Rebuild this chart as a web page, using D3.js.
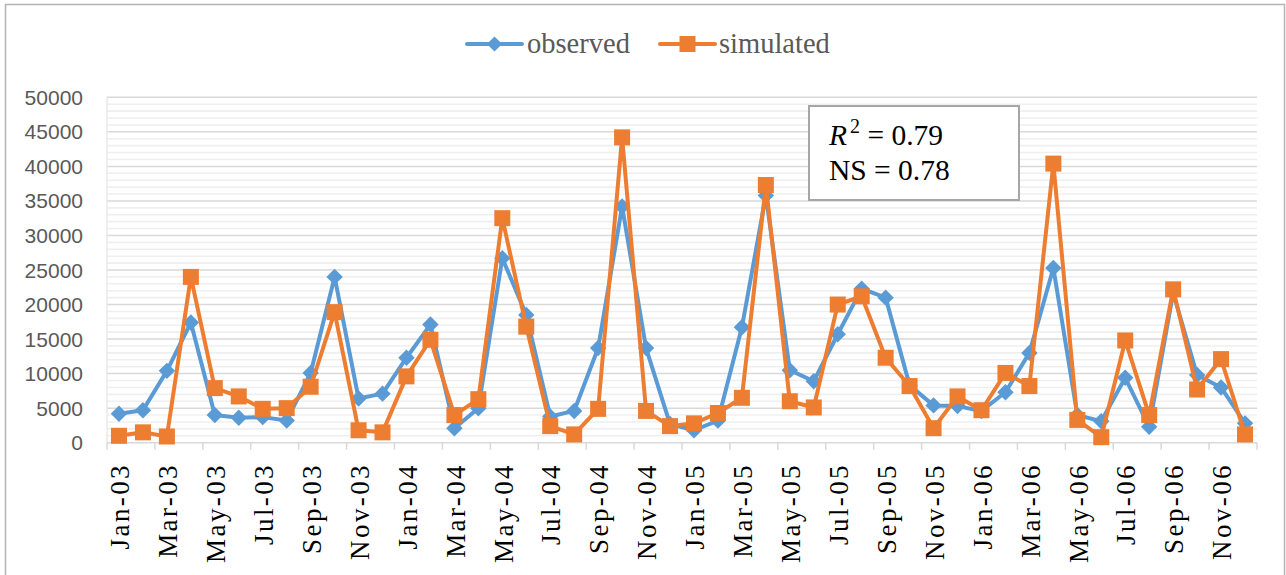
<!DOCTYPE html>
<html>
<head>
<meta charset="utf-8">
<script src="https://cdn.jsdelivr.net/npm/d3@7"></script>
<style>
  html, body { margin: 0; padding: 0; background: #fff; }
  svg { display: block; }
</style>
</head>
<body>
<svg id="chart" width="1286" height="575"></svg>
<script>
// Monthly discharge, observed vs simulated, Jan 2003 – Dec 2006
const months = [
  "Jan-03","Feb-03","Mar-03","Apr-03","May-03","Jun-03","Jul-03","Aug-03","Sep-03","Oct-03","Nov-03","Dec-03",
  "Jan-04","Feb-04","Mar-04","Apr-04","May-04","Jun-04","Jul-04","Aug-04","Sep-04","Oct-04","Nov-04","Dec-04",
  "Jan-05","Feb-05","Mar-05","Apr-05","May-05","Jun-05","Jul-05","Aug-05","Sep-05","Oct-05","Nov-05","Dec-05",
  "Jan-06","Feb-06","Mar-06","Apr-06","May-06","Jun-06","Jul-06","Aug-06","Sep-06","Oct-06","Nov-06","Dec-06"
];

const observed = [
  4200, 4700, 10400, 17400, 4000, 3600, 3700, 3200, 10100, 24000, 6400, 7100,
  12300, 17100, 2100, 5000, 26700, 18500, 3800, 4600, 13700, 34200, 13700, 2700,
  1800, 3200, 16700, 35800, 10500, 8900, 15700, 22300, 21000, 8300, 5400, 5300,
  4600, 7300, 13000, 25300, 4000, 3100, 9400, 2300, 21700, 9800, 8000, 2800
];

const simulated = [
  1000, 1500, 900, 24000, 7900, 6700, 4900, 5000, 8100, 18900, 1800, 1500,
  9600, 14900, 4000, 6300, 32500, 16800, 2400, 1200, 4900, 44200, 4600, 2400,
  2800, 4300, 6500, 37300, 6000, 5100, 20000, 21200, 12300, 8200, 2100, 6700,
  4700, 10100, 8200, 40400, 3300, 800, 14800, 4000, 22200, 7700, 12100, 1200
];

const yTicks = [0, 5000, 10000, 15000, 20000, 25000, 30000, 35000, 40000, 45000, 50000];
const seriesNames = ["observed", "simulated"];
const stats = { r2: "0.79", ns: "0.78" };

const BLUE = "#5b9bd5", ORANGE = "#ed7d31";
const SANS = "'Liberation Sans', Arial, sans-serif";
const SERIF = "'Liberation Serif', 'Times New Roman', serif";

const svg = d3.select("#chart");
const plot = { left: 107, right: 1257, top: 97.3, bottom: 442.7 };

// outer chart frame
svg.append("rect")
  .attr("x", 5.5).attr("y", 4.5).attr("width", 1279).attr("height", 580)
  .attr("fill", "#fff").attr("stroke", "#b4b4b4").attr("stroke-width", 1.5);

const x = d3.scaleBand().domain(months).range([plot.left, plot.right]).padding(0);
const y = d3.scaleLinear().domain([0, 50000]).range([plot.bottom, plot.top]);

// minor gridlines every 1000
const minor = d3.range(1000, 50000, 1000).filter(v => v % 5000 !== 0);
svg.append("g").selectAll("line").data(minor).join("line")
  .attr("x1", plot.left).attr("x2", plot.right)
  .attr("y1", d => y(d)).attr("y2", d => y(d))
  .attr("stroke", "#efefef").attr("stroke-width", 1.6);

// major gridlines
svg.append("g").selectAll("line").data(yTicks.filter(v => v > 0)).join("line")
  .attr("x1", plot.left).attr("x2", plot.right)
  .attr("y1", d => y(d)).attr("y2", d => y(d))
  .attr("stroke", "#d9d9d9").attr("stroke-width", 1.5);

// left edge of plot area
svg.append("line")
  .attr("x1", plot.left).attr("x2", plot.left)
  .attr("y1", plot.top).attr("y2", plot.bottom)
  .attr("stroke", "#e4e4e4").attr("stroke-width", 1.2);

// y axis labels
svg.append("g").selectAll("text").data(yTicks).join("text")
  .attr("x", 83).attr("y", d => y(d))
  .attr("dy", "0.36em")
  .attr("text-anchor", "end")
  .attr("font-family", SANS).attr("font-size", 21)
  .attr("fill", "#595959")
  .text(d => d);

// category axis line and ticks every two months
svg.append("line")
  .attr("x1", plot.left).attr("x2", plot.right)
  .attr("y1", plot.bottom).attr("y2", plot.bottom)
  .attr("stroke", "#d9d9d9").attr("stroke-width", 1.5);
const tickIdx = d3.range(0, months.length + 1, 2);
svg.append("g").selectAll("line").data(tickIdx).join("line")
  .attr("x1", i => i < months.length ? x(months[i]) : plot.right)
  .attr("x2", i => i < months.length ? x(months[i]) : plot.right)
  .attr("y1", plot.bottom).attr("y2", plot.bottom + 7)
  .attr("stroke", "#d9d9d9").attr("stroke-width", 1.5);

// rotated month labels (every other month)
const labelled = months.filter((m, i) => i % 2 === 0);
svg.append("g").selectAll("text").data(labelled).join("text")
  .attr("transform", d => `translate(${x(d) + x.bandwidth() / 2 + 1},463) rotate(-90)`)
  .attr("text-anchor", "end")
  .attr("dy", "0.34em")
  .attr("font-family", SERIF).attr("font-size", 27)
  .attr("letter-spacing", 2.4)
  .attr("fill", "#000")
  .text(d => d);

const cx = (d, i) => x(months[i]) + x.bandwidth() / 2;
const line = d3.line().x((d, i) => cx(d, i)).y(d => y(d));

// observed series: blue line with diamonds
svg.append("path").datum(observed)
  .attr("d", line).attr("fill", "none")
  .attr("stroke", BLUE).attr("stroke-width", 4).attr("stroke-linejoin", "round");
const diamond = d3.symbol().type(d3.symbolSquare).size(135)();
svg.append("g").selectAll("path").data(observed).join("path")
  .attr("d", diamond)
  .attr("transform", (d, i) => `translate(${cx(d, i)},${y(d)}) rotate(45)`)
  .attr("fill", BLUE);

// simulated series: orange line with squares
svg.append("path").datum(simulated)
  .attr("d", line).attr("fill", "none")
  .attr("stroke", ORANGE).attr("stroke-width", 4).attr("stroke-linejoin", "round");
svg.append("g").selectAll("rect").data(simulated).join("rect")
  .attr("x", (d, i) => cx(d, i) - 8).attr("y", d => y(d) - 8)
  .attr("width", 16).attr("height", 16)
  .attr("fill", ORANGE);

// legend
const legend = svg.append("g");
const legendItems = [
  { name: seriesNames[0], color: BLUE, x0: 467, shape: "diamond", tx: 527 },
  { name: seriesNames[1], color: ORANGE, x0: 660, shape: "square", tx: 719 }
];
legendItems.forEach(it => {
  legend.append("line")
    .attr("x1", it.x0).attr("x2", it.x0 + 55)
    .attr("y1", 44).attr("y2", 44)
    .attr("stroke", it.color).attr("stroke-width", 4).attr("stroke-linecap", "round");
  if (it.shape === "diamond") {
    legend.append("path")
      .attr("d", d3.symbol().type(d3.symbolSquare).size(115)())
      .attr("transform", `translate(${it.x0 + 27.5},44) rotate(45)`)
      .attr("fill", it.color);
  } else {
    legend.append("rect")
      .attr("x", it.x0 + 27.5 - 8).attr("y", 36)
      .attr("width", 16).attr("height", 16).attr("fill", it.color);
  }
  legend.append("text")
    .attr("x", it.tx).attr("y", 53)
    .attr("font-family", SERIF).attr("font-size", 28.5)
    .attr("fill", "#595959")
    .text(it.name);
});

// goodness-of-fit annotation
const box = svg.append("g");
box.append("rect")
  .attr("x", 809).attr("y", 106).attr("width", 210).attr("height", 94)
  .attr("fill", "#fff").attr("stroke", "#a6a6a6").attr("stroke-width", 2);
const t1 = box.append("text")
  .attr("x", 829).attr("y", 145)
  .attr("font-family", SERIF).attr("font-size", 29.5).attr("fill", "#000");
t1.append("tspan").attr("font-style", "italic").text("R");
t1.append("tspan").attr("font-size", 20).attr("dy", -12).attr("dx", 3).text("2");
t1.append("tspan").attr("dy", 12).text(" = " + stats.r2);
box.append("text")
  .attr("x", 829).attr("y", 180)
  .attr("font-family", SERIF).attr("font-size", 29.5).attr("fill", "#000")
  .text("NS = " + stats.ns);
</script>
</body>
</html>
